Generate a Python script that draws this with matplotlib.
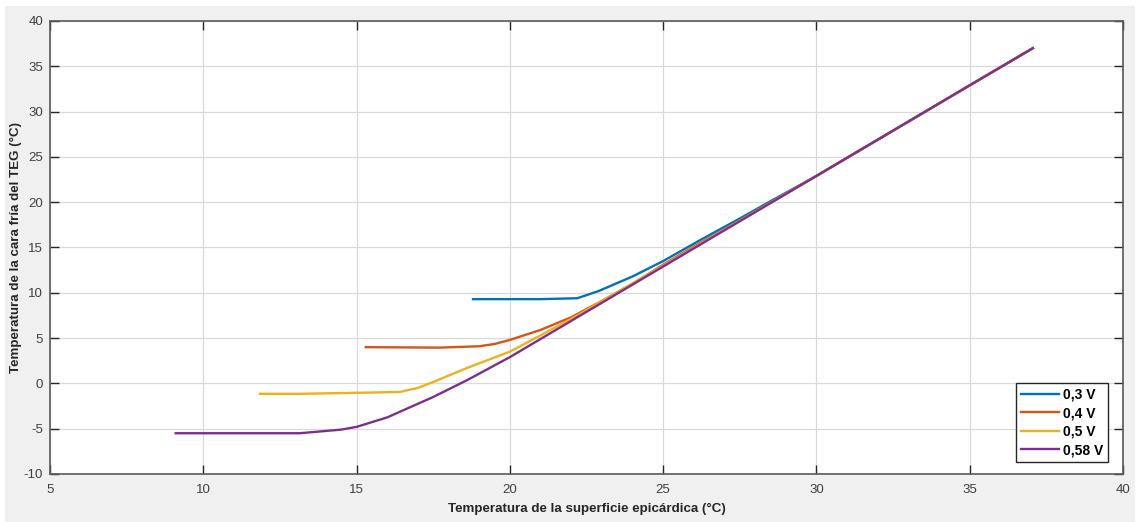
import matplotlib
matplotlib.use("Agg")
import matplotlib.pyplot as plt
from matplotlib.patches import Rectangle

# Series (surface temp -> TEG cold-side temp)
x_03 = [18.8, 20.0, 21.0, 22.2, 22.9, 24.0, 25.0, 26.2, 27.5, 28.5, 30.0, 35.0, 37.06]
y_03 = [9.3, 9.3, 9.3, 9.4, 10.2, 11.8, 13.5, 15.8, 18.2, 20.1, 22.9, 32.9, 37.0]

x_04 = [15.3, 17.7, 19.0, 19.5, 20.0, 21.0, 22.0, 23.0, 24.0, 25.0, 26.0, 27.0, 30.0, 35.0, 37.06]
y_04 = [4.0, 3.95, 4.1, 4.35, 4.8, 5.9, 7.3, 9.1, 11.0, 13.1, 15.1, 17.0, 22.9, 32.9, 37.0]

x_05 = [11.85, 13.15, 16.4, 17.0, 17.5, 18.6, 20.0, 21.0, 22.2, 25.0, 27.5, 30.0, 35.0, 37.06]
y_05 = [-1.15, -1.15, -0.95, -0.5, 0.15, 1.7, 3.5, 5.3, 7.5, 13.0, 17.95, 22.9, 32.9, 37.0]

x_058 = [9.1, 13.15, 14.5, 15.0, 16.0, 17.5, 18.6, 20.0, 21.0, 22.2, 25.0, 27.5, 30.0, 35.0, 37.06]
y_058 = [-5.5, -5.5, -5.1, -4.8, -3.75, -1.5, 0.35, 2.9, 4.9, 7.3, 12.9, 17.9, 22.9, 32.9, 37.0]

labels = ["0,3 V", "0,4 V", "0,5 V", "0,58 V"]
colors = ["#0072BD", "#D95319", "#EDB120", "#7E2F8E"]

xticks = list(range(5, 41, 5))
yticks = list(range(-10, 41, 5))

plt.rcParams['font.family'] = ['Liberation Sans', 'DejaVu Sans']
plt.rcParams['axes.unicode_minus'] = False

fig = plt.figure(figsize=(11.41, 5.22), dpi=100, facecolor="white")
# grey MATLAB-style figure area
fig.patches.append(Rectangle((5 / 1141, 0), 1130 / 1141, 516 / 522,
                             transform=fig.transFigure, facecolor="#f0f0f0",
                             edgecolor="none", zorder=-10))

ax = fig.add_axes([50 / 1141, 48 / 522, 1073 / 1141, 453 / 522])
ax.set_facecolor("white")

for xs, ys, lab, c in zip([x_03, x_04, x_05, x_058], [y_03, y_04, y_05, y_058], labels, colors):
    ax.plot(xs, ys, color=c, linewidth=1.7, label=lab)

ax.set_xlim(5, 40)
ax.set_ylim(-10, 40)
ax.set_xticks(xticks)
ax.set_yticks(yticks)
ax.grid(True, color="#dadada", linewidth=0.9)
ax.set_axisbelow(True)
ax.tick_params(direction="in", length=6.5, width=1, colors="#262626",
               labelsize=9.5, top=True, right=True, labelcolor="#404040")
ax.tick_params(axis="x", pad=7)
ax.tick_params(axis="y", pad=5)
for s in ax.spines.values():
    s.set_color("#5a5a5a")
    s.set_linewidth(1.2)

ax.set_xlabel("Temperatura de la superficie epicárdica (°C)", fontsize=9.6,
              fontweight="bold", color="#262626", labelpad=5)
ax.set_ylabel("Temperatura de la cara fría del TEG (°C)", fontsize=9.6,
              fontweight="bold", color="#262626", labelpad=1)

leg = ax.legend(loc="lower right", bbox_to_anchor=(0.986, 0.0265), borderaxespad=0,
                fancybox=False, framealpha=1, edgecolor="#262626", handlelength=2.7,
                handletextpad=0.3, borderpad=0.35, labelspacing=0.32,
                prop={"weight": "bold", "size": 10})
leg.get_frame().set_linewidth(1.0)

fig.savefig("out.png", dpi=100, facecolor="white")
